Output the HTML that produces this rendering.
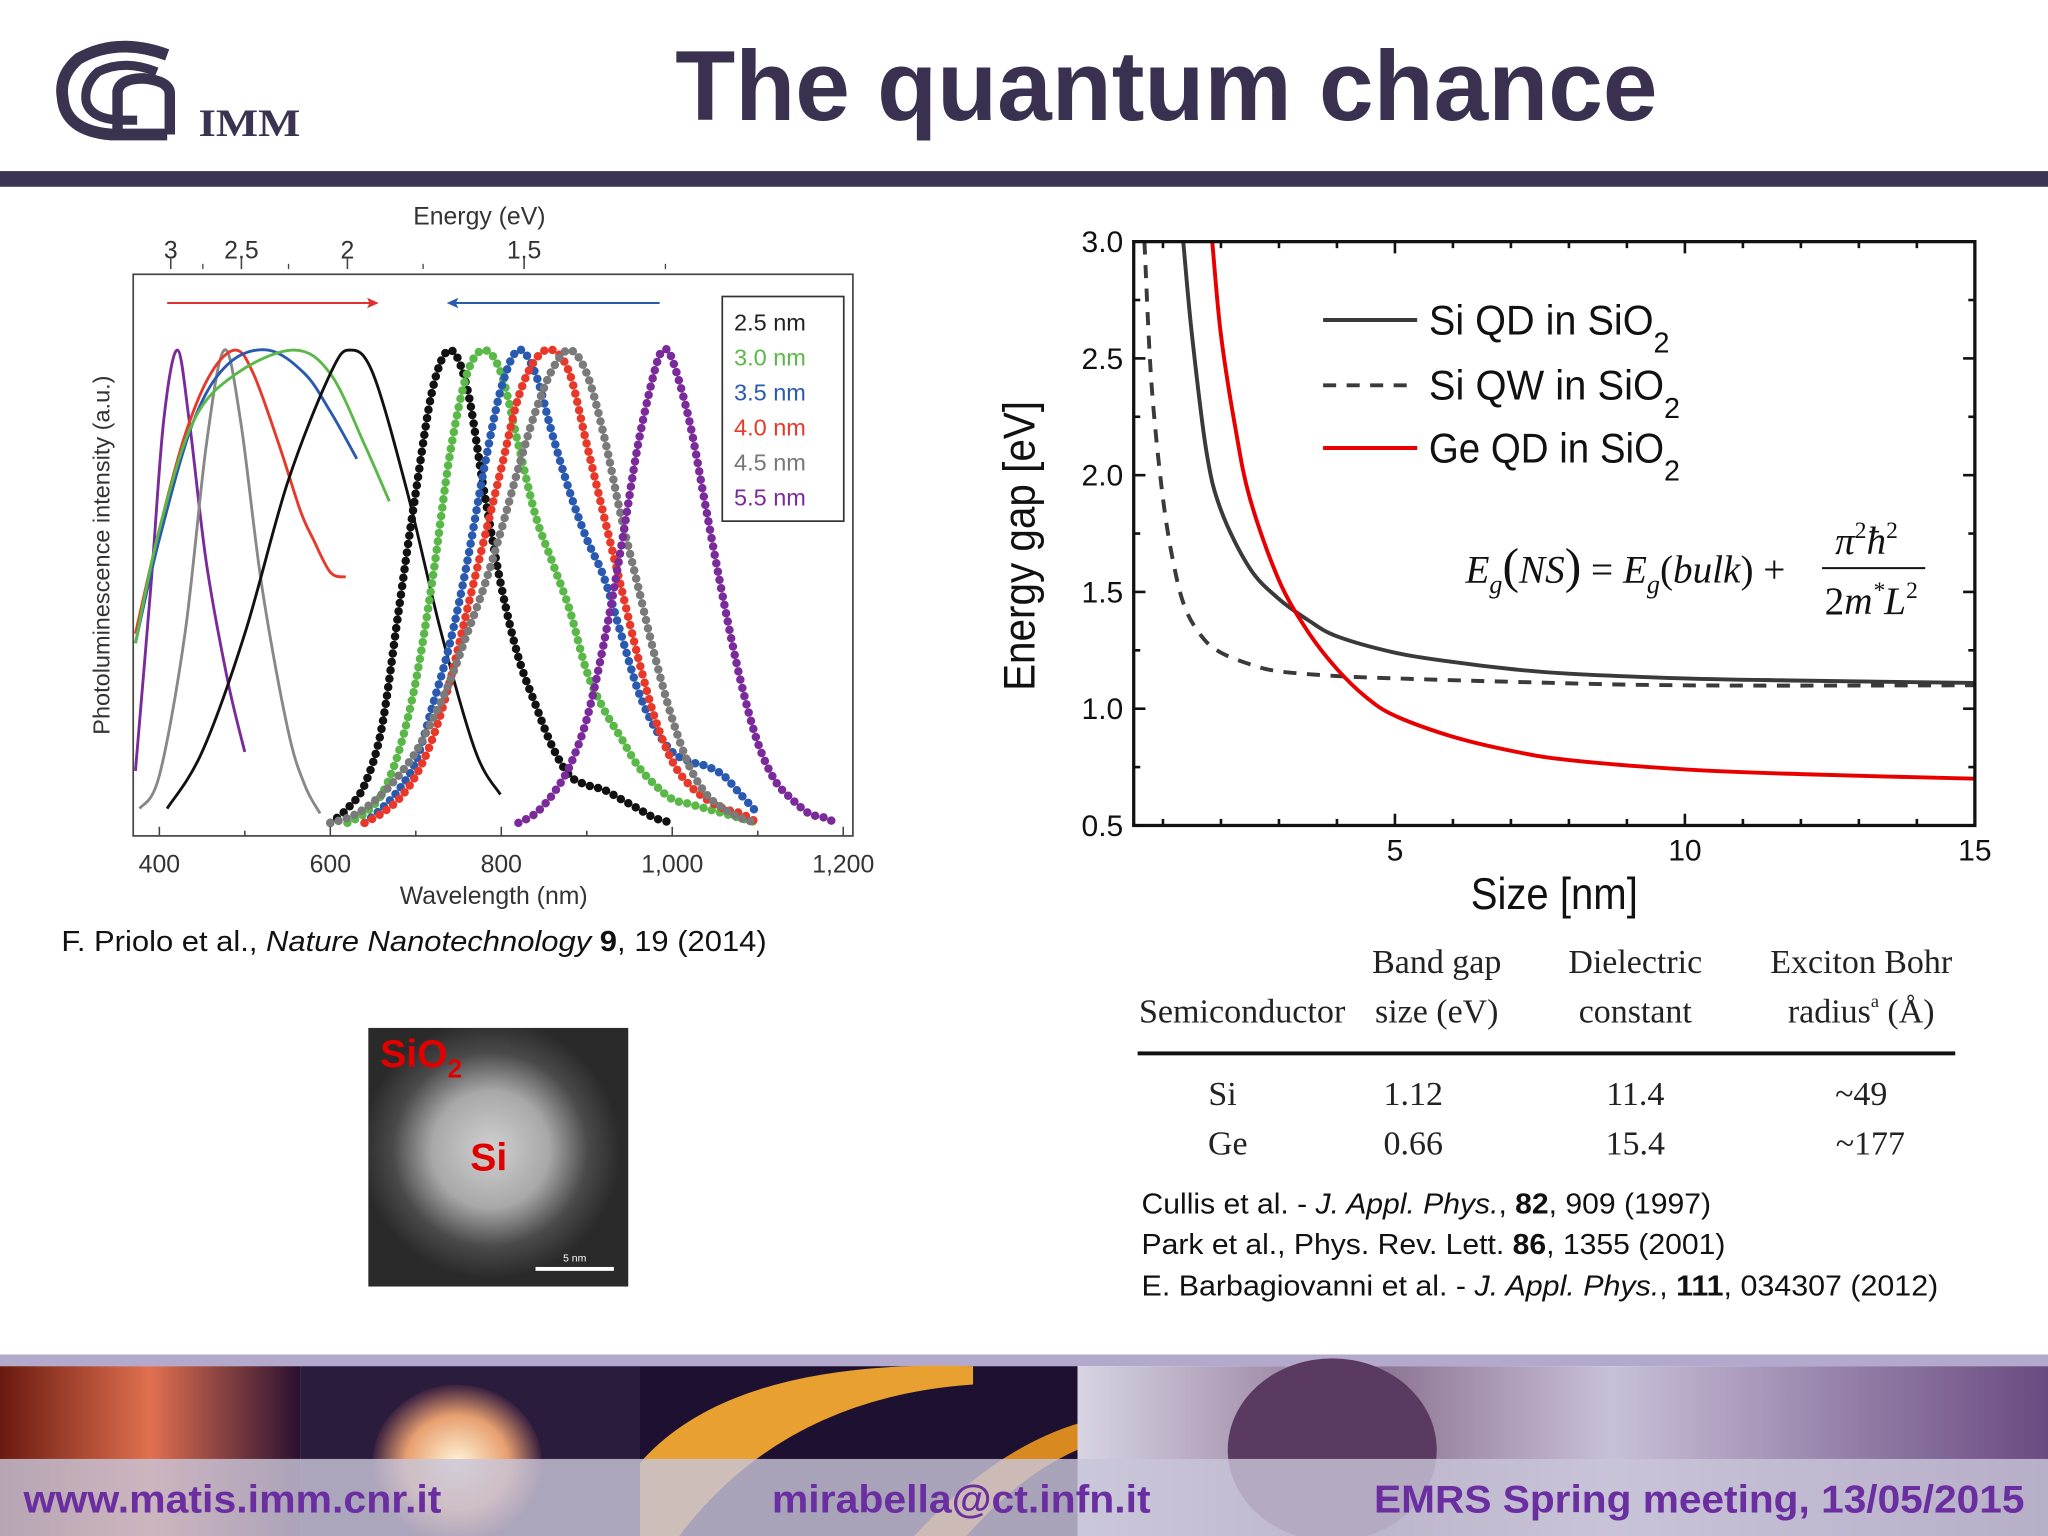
<!DOCTYPE html>
<html><head><meta charset="utf-8"><style>
html,body{margin:0;padding:0;background:#fff;}
svg{display:block;}
</style></head><body>
<svg id="root" xmlns="http://www.w3.org/2000/svg" width="2048" height="1536" viewBox="0 0 1568 1176" font-family="Liberation Sans, sans-serif">
<defs>
<radialGradient id="tem" cx="0.47" cy="0.47" r="0.5"><stop offset="0" stop-color="#d0d0d0"/><stop offset="0.45" stop-color="#a8a8a8"/><stop offset="0.75" stop-color="#4a4a4a"/><stop offset="1" stop-color="#2a2a2a"/></radialGradient>
<linearGradient id="p1" x1="0" y1="0" x2="1" y2="0"><stop offset="0" stop-color="#6a1a10"/><stop offset="0.5" stop-color="#e07050"/><stop offset="1" stop-color="#2a1030"/></linearGradient>
<radialGradient id="glow" cx="0.5" cy="0.5" r="0.5"><stop offset="0" stop-color="#fff4d8"/><stop offset="0.6" stop-color="#e8a070"/><stop offset="1" stop-color="#3a2040"/></radialGradient>
<linearGradient id="p4" x1="0" y1="0" x2="1" y2="0"><stop offset="0" stop-color="#d8d4e4"/><stop offset="0.3" stop-color="#8a7090"/><stop offset="0.55" stop-color="#c8c0d8"/><stop offset="1" stop-color="#6a4a80"/></linearGradient>
</defs>

<g>
  <g>
    <path d="M128 42 Q90 28 60 45 Q45 58 48 75 Q50 100 85 103 L128 103" fill="none" stroke="#3a3450" stroke-width="9"/>
    <path d="M120 55 Q95 45 75 55 Q64 65 66 78 Q70 92 95 92 L105 92" fill="none" stroke="#3a3450" stroke-width="7"/>
    <path d="M90 103 L90 70 Q92 60 110 60 Q130 62 130 72 L130 103" fill="none" stroke="#3a3450" stroke-width="8"/>
    <text x="152" y="104" font-family="Liberation Serif, serif" font-weight="bold" font-size="30" fill="#3a3450" textLength="78" lengthAdjust="spacingAndGlyphs">IMM</text>
  </g>
  <text x="893" y="92" text-anchor="middle" font-weight="bold" font-size="76" fill="#3a3050" textLength="752" lengthAdjust="spacingAndGlyphs">The quantum chance</text>
  <rect x="0" y="131" width="1568" height="12" fill="#3b3452"/>
</g>

<g id="pl"></g>

<text x="47" y="728" font-size="22" fill="#111" textLength="540" lengthAdjust="spacingAndGlyphs">F. Priolo et al., <tspan font-style="italic">Nature Nanotechnology</tspan> <tspan font-weight="bold">9</tspan>, 19 (2014)</text>

<g>
  <rect x="282" y="787" width="199" height="198" fill="url(#tem)"/>
  <text x="291" y="817" font-weight="bold" font-size="30" fill="#e00000">SiO<tspan font-size="20" dy="8">2</tspan></text>
  <text x="360" y="896" font-weight="bold" font-size="30" fill="#e00000">Si</text>
  <rect x="410" y="970" width="60" height="3" fill="#fff"/>
  <text x="440" y="966" font-size="8" fill="#fff" text-anchor="middle">5 nm</text>
</g>

<g id="eg"></g>

<g font-family="Liberation Serif, serif" font-style="italic" fill="#111">
  <text x="1122" y="446" font-size="30">E<tspan font-size="20" dy="8">g</tspan><tspan dy="-8" font-style="normal" font-size="38">(</tspan>NS<tspan font-style="normal" font-size="38">)</tspan><tspan font-style="normal"> = </tspan>E<tspan font-size="20" dy="8">g</tspan><tspan dy="-8" font-style="normal">(</tspan>bulk<tspan font-style="normal">) + </tspan></text>
  <text x="1405" y="424" font-size="30">π<tspan font-size="18" font-style="normal" dy="-12">2</tspan><tspan dy="12">ħ</tspan><tspan font-size="18" font-style="normal" dy="-12">2</tspan></text>
  <line x1="1395" x2="1474" y1="435" y2="435" stroke="#111" stroke-width="1.5"/>
  <text x="1397" y="470" font-size="30"><tspan font-style="normal">2</tspan>m<tspan font-size="18" dy="-12">*</tspan><tspan dy="12">L</tspan><tspan font-size="18" font-style="normal" dy="-12">2</tspan></text>
</g>

<g font-family="Liberation Serif, serif" font-size="26" fill="#222">
  <text x="872" y="783" textLength="158" lengthAdjust="spacingAndGlyphs">Semiconductor</text>
  <text x="1100" y="745" text-anchor="middle">Band gap</text>
  <text x="1100" y="783" text-anchor="middle">size (eV)</text>
  <text x="1252" y="745" text-anchor="middle">Dielectric</text>
  <text x="1252" y="783" text-anchor="middle">constant</text>
  <text x="1425" y="745" text-anchor="middle">Exciton Bohr</text>
  <text x="1425" y="783" text-anchor="middle">radius<tspan font-size="14" dy="-12">a</tspan><tspan dy="12"> (Å)</tspan></text>
  <rect x="871" y="805" width="626" height="3" fill="#111"/>
  <text x="936" y="846" text-anchor="middle">Si</text>
  <text x="1082" y="846" text-anchor="middle">1.12</text>
  <text x="1252" y="846" text-anchor="middle">11.4</text>
  <text x="1425" y="846" text-anchor="middle">~49</text>
  <text x="940" y="884" text-anchor="middle">Ge</text>
  <text x="1082" y="884" text-anchor="middle">0.66</text>
  <text x="1252" y="884" text-anchor="middle">15.4</text>
  <text x="1432" y="884" text-anchor="middle">~177</text>
</g>

<g font-size="22" fill="#111">
  <text x="874" y="929" textLength="436" lengthAdjust="spacingAndGlyphs">Cullis et al. - <tspan font-style="italic">J. Appl. Phys.</tspan>, <tspan font-weight="bold">82</tspan>, 909 (1997)</text>
  <text x="874" y="960" textLength="447" lengthAdjust="spacingAndGlyphs">Park et al., Phys. Rev. Lett. <tspan font-weight="bold">86</tspan>, 1355 (2001)</text>
  <text x="874" y="992" textLength="610" lengthAdjust="spacingAndGlyphs">E. Barbagiovanni et al. - <tspan font-style="italic">J. Appl. Phys.</tspan>, <tspan font-weight="bold">111</tspan>, 034307 (2012)</text>
</g>

<g>
  <rect x="0" y="1037" width="1568" height="9" fill="#b3a9cc"/>
  <rect x="0" y="1046" width="230" height="130" fill="url(#p1)"/>
  <rect x="230" y="1046" width="260" height="130" fill="#2a1c3c"/>
  <ellipse cx="350" cy="1120" rx="65" ry="60" fill="url(#glow)"/>
  <rect x="490" y="1046" width="335" height="130" fill="#1e1030"/>
  <path d="M490 1120 Q560 1040 745 1046 L745 1060 Q600 1070 520 1176 L490 1176Z" fill="#e8a030"/>
  <path d="M700 1176 Q760 1110 825 1090 L825 1110 Q780 1130 740 1176Z" fill="#d88a20"/>
  <rect x="825" y="1046" width="743" height="130" fill="url(#p4)"/>
  <ellipse cx="1020" cy="1110" rx="80" ry="70" fill="#5a3a60"/>
  <rect x="0" y="1117" width="1568" height="59" fill="#c8c4d8" opacity="0.82"/>
  <text x="18" y="1158" font-weight="bold" font-size="30" fill="#6a2ea0" textLength="320" lengthAdjust="spacingAndGlyphs">www.matis.imm.cnr.it</text>
  <text x="591" y="1158" font-weight="bold" font-size="30" fill="#6a2ea0" textLength="290" lengthAdjust="spacingAndGlyphs">mirabella@ct.infn.it</text>
  <text x="1052" y="1158" font-weight="bold" font-size="30" fill="#6a2ea0" textLength="498" lengthAdjust="spacingAndGlyphs">EMRS Spring meeting, 13/05/2015</text>
</g>
</svg>

<script>
var NS='http://www.w3.org/2000/svg';
function mk(tag,attrs,parent){var e=document.createElementNS(NS,tag);for(var k in attrs)e.setAttribute(k,attrs[k]);parent.appendChild(e);return e;}
function smooth(pts){
  var d='M'+pts[0][0].toFixed(1)+' '+pts[0][1].toFixed(1);
  for(var i=0;i<pts.length-1;i++){
    var p0=pts[i-1]||pts[i],p1=pts[i],p2=pts[i+1],p3=pts[i+2]||p2;
    var c1x=p1[0]+(p2[0]-p0[0])/6,c1y=p1[1]+(p2[1]-p0[1])/6;
    var c2x=p2[0]-(p3[0]-p1[0])/6,c2y=p2[1]-(p3[1]-p1[1])/6;
    d+=' C'+c1x.toFixed(1)+' '+c1y.toFixed(1)+' '+c2x.toFixed(1)+' '+c2y.toFixed(1)+' '+p2[0].toFixed(1)+' '+p2[1].toFixed(1);
  }
  return d;
}

/* ===== PL chart data ===== */
var plWavelengthTicks=[400,600,800,1000,1200];
var plWavelengthTickLabels=['400','600','800','1,000','1,200'];
var plEnergyTicks=[3,2.5,2,1.5];
var plEnergyTickLabels=['3','2.5','2','1.5'];
var plLegendLabels=['2.5 nm','3.0 nm','3.5 nm','4.0 nm','4.5 nm','5.5 nm'];
var solidPurple=[[372,0.11],[390,0.5],[405,0.85],[421,1],[435,0.85],[455,0.55],[480,0.3],[500,0.15]];
var solidGray=[[377,0.03],[400,0.1],[430,0.4],[455,0.8],[476,1],[495,0.85],[520,0.5],[550,0.2],[570,0.08],[588,0.02]];
var solidRed=[[372,0.4],[400,0.62],[430,0.82],[460,0.95],[489,1],[510,0.95],[540,0.8],[565,0.66],[580,0.6],[600,0.53],[618,0.52]];
var solidBlue=[[372,0.38],[400,0.6],[440,0.85],[480,0.97],[527,1],[570,0.95],[600,0.87],[631,0.77]];
var solidGreen=[[372,0.38],[400,0.62],[440,0.85],[490,0.95],[557,1],[600,0.95],[640,0.8],[669,0.68]];
var solidBlack=[[409,0.03],[450,0.15],[500,0.4],[550,0.72],[600,0.95],[623,1],[650,0.95],[690,0.7],[730,0.4],[770,0.15],[799,0.06]];
var dotBlack=[[600,0],[620,0.03],[640,0.08],[660,0.2],[680,0.45],[700,0.7],[720,0.92],[740,1],[760,0.92],[780,0.7],[800,0.5],[820,0.35],[840,0.25],[860,0.16],[880,0.1],[900,0.08],[920,0.07],[940,0.05],[960,0.03],[980,0.01],[1000,0]];
var dotGreen=[[620,0],[640,0.02],[660,0.06],[680,0.15],[700,0.3],[720,0.52],[740,0.78],[760,0.95],[780,1],[800,0.95],[820,0.8],[840,0.65],[860,0.55],[880,0.45],[900,0.32],[920,0.24],[940,0.18],[960,0.12],[980,0.08],[1000,0.05],[1020,0.04],[1040,0.03],[1060,0.02],[1080,0.01],[1100,0]];
var dotBlue=[[640,0],[660,0.03],[680,0.07],[700,0.13],[720,0.25],[740,0.38],[760,0.55],[780,0.75],[800,0.92],[820,1],[840,0.95],[860,0.82],[880,0.7],[900,0.6],[920,0.52],[940,0.4],[960,0.28],[980,0.2],[1000,0.15],[1020,0.13],[1040,0.12],[1060,0.1],[1080,0.06],[1100,0.02]];
var dotRed=[[640,0],[660,0.02],[680,0.05],[700,0.1],[720,0.18],[740,0.3],[760,0.45],[780,0.6],[800,0.75],[820,0.9],[840,0.98],[860,1],[880,0.95],[900,0.8],[920,0.65],[940,0.5],[960,0.35],[980,0.22],[1000,0.13],[1020,0.08],[1040,0.05],[1060,0.03],[1080,0.02],[1100,0]];
var dotGray=[[600,0],[620,0.01],[640,0.03],[660,0.06],[680,0.1],[700,0.15],[720,0.22],[740,0.3],[760,0.4],[780,0.5],[800,0.62],[820,0.75],[840,0.87],[860,0.96],[880,1],[900,0.95],[920,0.82],[940,0.65],[960,0.5],[980,0.35],[1000,0.22],[1020,0.12],[1040,0.06],[1060,0.03],[1080,0.01],[1100,0]];
var dotPurple=[[820,0],[840,0.02],[860,0.06],[880,0.12],[900,0.22],[920,0.38],[940,0.58],[960,0.8],[980,0.96],[990,1],[1000,0.98],[1020,0.85],[1040,0.66],[1060,0.47],[1080,0.3],[1100,0.17],[1120,0.09],[1140,0.05],[1160,0.02],[1180,0.01],[1190,0]];

/* ===== Energy gap chart data ===== */
var egYTicks=[0.5,1.0,1.5,2.0,2.5,3.0];
var egYTickLabels=['0.5','1.0','1.5','2.0','2.5','3.0'];
var egXTicks=[5,10,15];
var egXTickLabels=['5','10','15'];
var siQD=[[1.35,3.0],[1.5,2.6],[1.75,2.1],[2,1.85],[2.5,1.6],[3,1.47],[3.5,1.38],[4,1.31],[5,1.24],[6,1.2],[7,1.17],[8,1.15],[10,1.13],[12,1.12],[15,1.11]];
var siQW=[[0.68,3.0],[0.8,2.4],[1,1.9],[1.2,1.6],[1.4,1.42],[1.7,1.3],[2,1.24],[2.5,1.19],[3,1.16],[4,1.14],[5,1.13],[7,1.115],[10,1.1],[15,1.1]];
var geQD=[[1.85,3.0],[2,2.6],[2.25,2.2],[2.5,1.9],[3,1.55],[3.5,1.33],[4,1.17],[4.5,1.05],[5,0.97],[6,0.88],[7,0.82],[8,0.78],[10,0.74],[12,0.72],[15,0.7]];

(function(){
  var g=document.getElementById('pl');
  var L=102,R=653,T=210,B=640;
  function xs(l){return 122+(l-400)*0.6545;}
  function ys(i){return 630-i*362;}
  function xe(e){return xs(1240/e);}
  function pathOf(d){return smooth(d.map(function(p){return [xs(p[0]),ys(p[1])];}));}
  var solids=[[solidPurple,'#7a2a9a','solid-purple'],[solidGray,'#888','solid-gray'],[solidRed,'#e8382a','solid-red'],[solidBlue,'#2a5ab0','solid-blue'],[solidGreen,'#5ab848','solid-green'],[solidBlack,'#111','solid-black']];
  solids.forEach(function(s){
    var p=mk('path',{d:pathOf(s[0]),fill:'none',stroke:s[1],'stroke-width':2.2},g);
    
    
  });
  var dots=[[dotBlack,'#111','2-5nm'],[dotGreen,'#5ab848','3-0nm'],[dotBlue,'#2a5ab0','3-5nm'],[dotRed,'#e8382a','4-0nm'],[dotGray,'#7a7a7a','4-5nm'],[dotPurple,'#7a2a9a','5-5nm']];
  dots.forEach(function(s){
    var p=mk('path',{d:pathOf(s[0]),fill:'none',stroke:s[1],'stroke-width':6.5,'stroke-linecap':'round','stroke-dasharray':'0 6.5'},g);
    
    
  });
  var box=mk('rect',{x:L,y:T,width:R-L,height:B-T,fill:'none',stroke:'#444','stroke-width':1.3},g);
  
  
  for(var w=400;w<=1200;w+=100){mk('line',{x1:xs(w),x2:xs(w),y1:B,y2:B-(w%200?4:7),stroke:'#444','stroke-width':1.2},g);}
  plWavelengthTicks.forEach(function(w,i){
    var t=mk('text',{x:xs(w),y:668,'text-anchor':'middle','font-size':19,fill:'#333'},g);t.textContent=plWavelengthTickLabels[i];
    
    
  });
  var xt=mk('text',{x:378,y:692,'text-anchor':'middle','font-size':19,fill:'#333'},g);xt.textContent='Wavelength (nm)';
  
  
  plEnergyTicks.forEach(function(e,i){
    mk('line',{x1:xe(e),x2:xe(e),y1:198,y2:206,stroke:'#444','stroke-width':1.2},g);
    var t=mk('text',{x:xe(e),y:198,'text-anchor':'middle','font-size':19,fill:'#333'},g);t.textContent=plEnergyTickLabels[i];
    
    
  });
  [2.75,2.25,1.75,1.25].forEach(function(e){mk('line',{x1:xe(e),x2:xe(e),y1:202,y2:206,stroke:'#444','stroke-width':1},g);});
  var et=mk('text',{x:367,y:172,'text-anchor':'middle','font-size':19,fill:'#333'},g);et.textContent='Energy (eV)';
  
  
  var yt=mk('text',{x:0,y:0,'text-anchor':'middle','font-size':18,fill:'#333',transform:'translate(84 425) rotate(-90)'},g);yt.textContent='Photoluminescence intensity (a.u.)';
  
  
  mk('line',{x1:128,x2:286,y1:232,y2:232,stroke:'#e03030','stroke-width':1.5},g);
  mk('path',{d:'M290 232 L281 228 L283 232 L281 236Z',fill:'#e03030'},g);
  mk('line',{x1:346,x2:505,y1:232,y2:232,stroke:'#2a5ab0','stroke-width':1.5},g);
  mk('path',{d:'M342 232 L351 228 L349 232 L351 236Z',fill:'#2a5ab0'},g);
  var lg=mk('g',{},g);
  
  
  mk('rect',{x:553,y:227,width:93,height:172,fill:'#fff',stroke:'#333','stroke-width':1.3},lg);
  var lc=['#222','#5ab848','#2a5ab0','#e8382a','#777','#7a2a9a'];
  plLegendLabels.forEach(function(l,i){
    var t=mk('text',{x:562,y:253+i*26.8,'font-size':18,fill:lc[i]},lg);t.textContent=l;
    
    
  });
})();

(function(){
  var g=document.getElementById('eg');
  var L=868,R=1512,T=185,B=632;
  function xs(v){return 846+v*44.4;}
  function ys(v){return 632-(v-0.5)*178.8;}
  var cp=mk('clipPath',{id:'egclip'},g);mk('rect',{x:L,y:T,width:R-L,height:B-T},cp);
  function pathOf(d){return smooth(d.map(function(p){return [xs(p[0]),ys(p[1])];}));}
  var series=[[siQW,'#3a3a3a','si-qw-curve','10 8'],[siQD,'#3a3a3a','si-qd-curve',null],[geQD,'#e80000','ge-qd-curve',null]];
  series.forEach(function(s){
    var a={d:pathOf(s[0]),fill:'none',stroke:s[1],'stroke-width':3,'stroke-linejoin':'round','clip-path':'url(#egclip)'};
    if(s[3])a['stroke-dasharray']=s[3];
    var p=mk('path',a,g);
    
    
  });
  var box=mk('rect',{x:L,y:T,width:R-L,height:B-T,fill:'none',stroke:'#111','stroke-width':2.5},g);
  
  
  for(var v=0.75;v<3;v+=0.5){
    mk('line',{x1:L,x2:L+5,y1:ys(v),y2:ys(v),stroke:'#111','stroke-width':2},g);
    mk('line',{x1:R,x2:R-5,y1:ys(v),y2:ys(v),stroke:'#111','stroke-width':2},g);
  }
  egYTicks.forEach(function(v,i){
    mk('line',{x1:L,x2:L+9,y1:ys(v),y2:ys(v),stroke:'#111','stroke-width':2},g);
    mk('line',{x1:R,x2:R-9,y1:ys(v),y2:ys(v),stroke:'#111','stroke-width':2},g);
    var t=mk('text',{x:860,y:ys(v)+8,'text-anchor':'end','font-size':23,fill:'#111'},g);t.textContent=egYTickLabels[i];
    
    
  });
  for(var x=1;x<15;x++){
    var big=(x%5===0);
    mk('line',{x1:xs(x),x2:xs(x),y1:B,y2:B-(big?9:5),stroke:'#111','stroke-width':2},g);
    mk('line',{x1:xs(x),x2:xs(x),y1:T,y2:T+(big?9:5),stroke:'#111','stroke-width':2},g);
  }
  egXTicks.forEach(function(v,i){
    var t=mk('text',{x:xs(v),y:659,'text-anchor':'middle','font-size':23,fill:'#111'},g);t.textContent=egXTickLabels[i];
    
    
  });
  var xt=mk('text',{x:1190,y:696,'text-anchor':'middle','font-size':34,fill:'#111',textLength:128,lengthAdjust:'spacingAndGlyphs'},g);xt.textContent='Size [nm]';
  
  
  var yt=mk('text',{x:0,y:0,'text-anchor':'middle','font-size':34,fill:'#111',transform:'translate(792 418) rotate(-90)',textLength:222,lengthAdjust:'spacingAndGlyphs'},g);yt.textContent='Energy gap [eV]';
  
  
  var lg=mk('g',{},g);
  
  
  var le=[['Si QD in SiO','#3a3a3a',null,245,172],['Si QW in SiO','#3a3a3a','10 8',295,180],['Ge QD in SiO','#e80000',null,343,180]];
  le.forEach(function(e){
    var a={x1:1013,x2:1085,y1:e[3],y2:e[3],stroke:e[1],'stroke-width':3};if(e[2])a['stroke-dasharray']=e[2];
    mk('line',a,lg);
    var t=mk('text',{x:1094,y:e[3]+11,'font-size':32,fill:'#111'},lg);
    var s1=mk('tspan',{textLength:e[4],lengthAdjust:'spacingAndGlyphs'},t);s1.textContent=e[0];
    var s2=mk('tspan',{'font-size':22,dy:14},t);s2.textContent='2';
    
    
  });
})();
</script>
</body></html>
